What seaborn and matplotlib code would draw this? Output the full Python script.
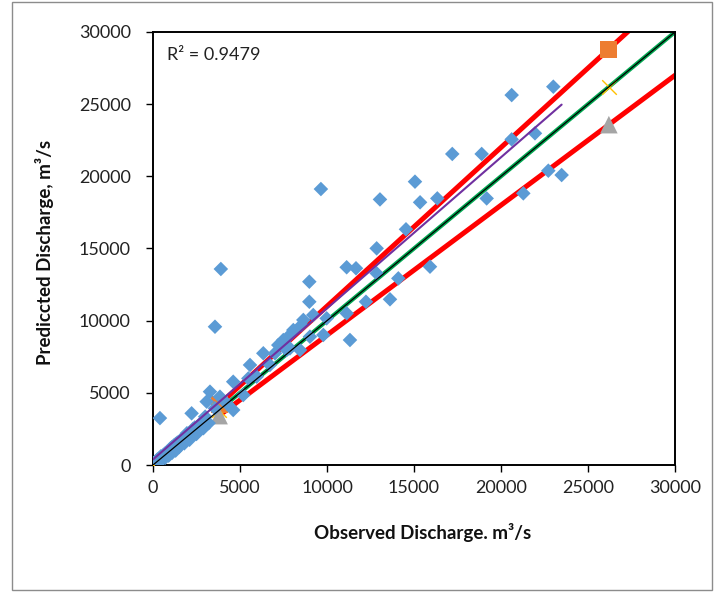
import numpy as np
import pandas as pd
import matplotlib.pyplot as plt
import seaborn as sns
from matplotlib.patches import Rectangle

sns.set_style('white')
plt.rcParams['font.family'] = ['Lato', 'DejaVu Sans']

# Observed vs predicted discharge (m3/s)
observed = [0, 50, 100, 150, 200, 250, 300, 350, 400, 450, 500, 600, 700, 800, 900,
            1000, 1100, 1200, 1300, 1400, 1500, 1650, 1800, 1950, 2100, 2300, 2500,
            2700, 2900, 3000, 3200, 400, 2220, 3275, 3085, 3560, 3850, 4235, 4610,
            5190, 4610, 5480, 5960, 5575, 6720, 6340, 7010, 7200, 7870, 7870, 8540,
            8065, 7490, 7680, 8450, 9020, 9790, 11320, 8640, 9210, 9980, 11130, 8985,
            12240, 13620, 8985, 12855, 14100, 11130, 11667, 15920, 12855, 14540, 13045,
            15350, 16340, 15057, 9650, 17200, 18890, 20614, 21953, 20614, 23007, 19177,
            21283, 22720, 23485, 3563, 3900,
            0, 50, 100, 150, 200, 250, 300, 400, 500, 600, 700, 800, 900, 1000, 1100,
            1200, 1300, 1500, 1600, 1800, 2000, 2200, 2400, 2600]
predicted = [0, 120, 40, 250, 100, 380, 180, 450, 280, 600, 350, 700, 500, 900, 650,
             1150, 850, 1350, 1000, 1550, 1250, 1800, 1500, 2200, 1750, 2500, 2150,
             2850, 2550, 3350, 2900, 3250, 3580, 5080, 4390, 3930, 4730, 4270, 3810,
             4850, 5770, 6000, 6120, 6930, 6930, 7740, 7740, 8310, 8080, 9010, 9700,
             9350, 8660, 7970, 7970, 8890, 9010, 8660, 10050, 10390, 10160, 10510, 11310,
             11310, 11480, 12700, 13280, 12930, 13700, 13630, 13740, 15010, 16330, 18400,
             18200, 18470, 19630, 19120, 21550, 21550, 22560, 22980, 25630, 26210, 18470,
             18820, 20390, 20090, 9580, 13580,
             80, 30, 150, 100, 260, 200, 330, 450, 560, 620, 800, 820, 1000, 1050, 1250,
             1250, 1450, 1600, 1700, 1950, 2100, 2300, 2600, 2700]

# reference lines (1:1 and +/-10 %)
ref_x = [4000, 30000]
upper_y = [4400, 33000]
lower_y = [3600, 27000]
one_x = [0, 30000]
one_y = [0, 30000]

# marker points of the reference series
band_x = [0, 3800, 26200]
band_upper = [0, 4180, 28820]
band_equal = [0, 3800, 26200]
band_lower = [0, 3420, 23580]

df = pd.DataFrame({'obs': observed, 'pred': predicted})

fig = plt.figure(figsize=(7.23, 5.98), dpi=100)
ax = fig.add_axes([0.2116, 0.2224, 0.722, 0.7241])

sns.lineplot(x=ref_x, y=upper_y, color='#FF0000', lw=3.6, ax=ax, zorder=2)
sns.lineplot(x=ref_x, y=lower_y, color='#FF0000', lw=3.6, ax=ax, zorder=2)
sns.lineplot(x=ref_x, y=ref_x, color='#00A650', lw=3.0, ax=ax, zorder=2)

sns.scatterplot(x=band_x, y=band_upper, marker='s', s=150, color='#ED7D31',
                edgecolor='none', ax=ax, zorder=3)
sns.scatterplot(x=band_x, y=band_equal, marker='x', s=110, color='#FFC000',
                linewidth=1, ax=ax, zorder=3)
sns.scatterplot(x=band_x, y=band_lower, marker='^', s=160, color='#A5A5A5',
                edgecolor='none', ax=ax, zorder=3)

sns.scatterplot(data=df, x='obs', y='pred', marker='D', s=55, color='#5B9BD5',
                edgecolor='none', ax=ax, zorder=4)

sns.regplot(data=df, x='obs', y='pred', scatter=False, ci=None,
            line_kws={'color': '#7030A0', 'lw': 1.5, 'zorder': 5}, ax=ax)
sns.lineplot(x=one_x, y=one_y, color='black', lw=0.9, ax=ax, zorder=6)

ax.set_xlim(0, 30000)
ax.set_ylim(0, 30000)
ax.set_xticks(np.arange(0, 30001, 5000))
ax.set_yticks(np.arange(0, 30001, 5000))
ax.tick_params(axis='both', direction='out', length=5, width=1, color='black',
               labelsize=13, labelcolor='#222222', bottom=True, left=True)
ax.tick_params(axis='x', pad=6)
ax.tick_params(axis='y', pad=11)
for sp in ax.spines.values():
    sp.set_color('black')
    sp.set_linewidth(1.4)

ax.set_xlabel('Observed Discharge. m\u00b3/s', fontsize=13.5, fontweight='bold', color='#111111')
ax.set_ylabel('Prediccted Discharge, m\u00b3/s', fontsize=13.5, fontweight='bold', color='#111111')
ax.xaxis.set_label_coords(0.517, -0.135)
ax.yaxis.set_label_coords(-0.19, 0.49)

ax.text(0.027, 0.947, 'R\u00b2 = 0.9479', transform=ax.transAxes, fontsize=13,
        ha='left', va='center', color='#222222')

fig.patches.append(Rectangle((12 / 723, 8 / 598), 700 / 723, 588 / 598,
                             transform=fig.transFigure, fill=False,
                             edgecolor='#8C8C8C', lw=1))

fig.savefig('out.png', dpi=100)
